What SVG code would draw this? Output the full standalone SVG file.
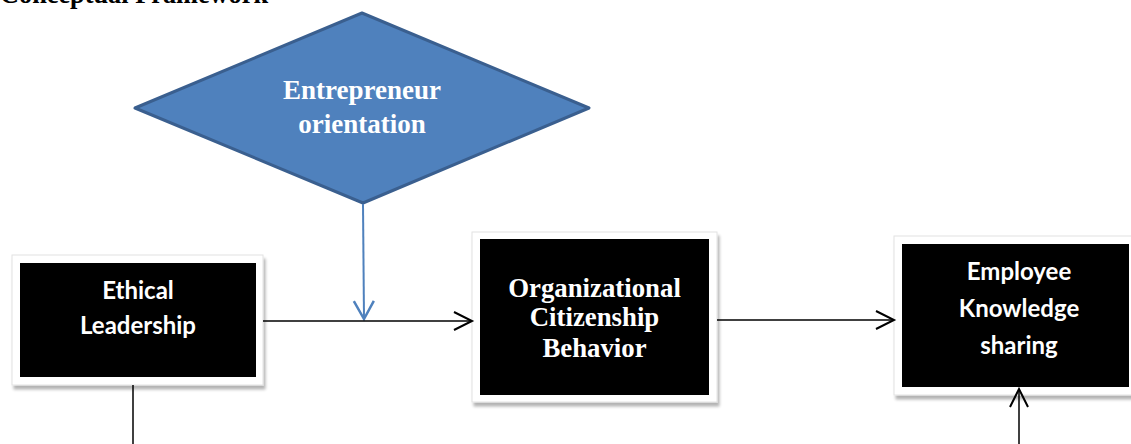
<svg xmlns="http://www.w3.org/2000/svg" width="1131" height="444" viewBox="0 0 1131 444">
  <style>
    .frame { fill: #ffffff; stroke: #e2e2e2; stroke-width: 1; filter: url(#shadow); }
    .box { fill: #000000; }
    .serif { font-family: "Liberation Serif", "Times New Roman", serif; font-weight: bold; fill: #ffffff; text-anchor: middle; }
    .sans { font-family: Lato, "Open Sans", sans-serif; font-weight: bold; fill: #ffffff; text-anchor: middle; }
    .link { stroke: #000000; stroke-width: 1.5; fill: none; }
    .blue { stroke: #4f81bd; stroke-width: 2; fill: none; }
  </style>
  <defs>
    <filter id="shadow" x="-10%" y="-10%" width="130%" height="130%">
      <feGaussianBlur in="SourceAlpha" stdDeviation="1.5"/>
      <feOffset dx="2" dy="4" result="blur"/>
      <feComponentTransfer><feFuncA type="linear" slope="0.3"/></feComponentTransfer>
      <feMerge><feMergeNode/><feMergeNode in="SourceGraphic"/></feMerge>
    </filter>
    <marker id="arrow" markerUnits="userSpaceOnUse" markerWidth="24" markerHeight="24" viewBox="-20 -12 24 24" refX="0" refY="0" orient="auto">
      <path d="M-18,-9 L0,0 L-18,9" fill="none" stroke="#000000" stroke-width="2"/>
    </marker>
    <marker id="arrowBlue" markerUnits="userSpaceOnUse" markerWidth="24" markerHeight="24" viewBox="-20 -12 24 24" refX="0" refY="0" orient="auto">
      <path d="M-18,-10 L0,0 L-18,10" fill="none" stroke="#4f81bd" stroke-width="2.5"/>
    </marker>
  </defs>

  <rect width="1131" height="444" fill="#ffffff"/>

  <!-- heading, partly above the top edge -->
  <text x="0" y="2.5" font-family="Liberation Serif, Times New Roman, serif" font-weight="bold" font-size="26.3" fill="#000000">Conceptual Framework</text>

  <!-- moderator -->
  <g id="entrepreneur-orientation">
    <polygon points="362,13 589,108 363,203 135,108" fill="#4f81bd" stroke="#3a5f8f" stroke-width="3" stroke-linejoin="round"/>
    <text class="serif" x="362" y="99" font-size="27">Entrepreneur</text>
    <text class="serif" x="362" y="133" font-size="27">orientation</text>
  </g>

  <g id="ethical-leadership">
    <rect class="frame" x="12" y="255" width="251" height="130"/>
    <rect class="box" x="20" y="263" width="236" height="114"/>
    <text class="sans" x="138" y="299" font-size="24">Ethical</text>
    <text class="sans" x="138" y="334" font-size="24">Leadership</text>
  </g>

  <g id="organizational-citizenship-behavior">
    <rect class="frame" x="472" y="232" width="245" height="170"/>
    <rect class="box" x="480" y="239" width="229" height="156"/>
    <text class="serif" x="594.5" y="297" font-size="26.8">Organizational</text>
    <text class="serif" x="594.5" y="326" font-size="26.8">Citizenship</text>
    <text class="serif" x="594.5" y="357" font-size="26.8">Behavior</text>
  </g>

  <g id="employee-knowledge-sharing">
    <rect class="frame" x="894" y="236" width="245" height="159"/>
    <rect class="box" x="902" y="244" width="227" height="143"/>
    <text class="sans" x="1019" y="280" font-size="24">Employee</text>
    <text class="sans" x="1019" y="317" font-size="24">Knowledge</text>
    <text class="sans" x="1019" y="354" font-size="24">sharing</text>
  </g>

  <!-- connectors -->
  <g id="connectors">
    <line class="blue" x1="363" y1="204" x2="364" y2="319" marker-end="url(#arrowBlue)"/>
    <line class="link" x1="263" y1="321" x2="472" y2="321" marker-end="url(#arrow)"/>
    <line class="link" x1="717" y1="320" x2="894" y2="320" marker-end="url(#arrow)"/>
    <line class="link" x1="133" y1="385" x2="133" y2="444"/>
    <line class="link" x1="1019" y1="444" x2="1019" y2="389" marker-end="url(#arrow)"/>
  </g>
</svg>
